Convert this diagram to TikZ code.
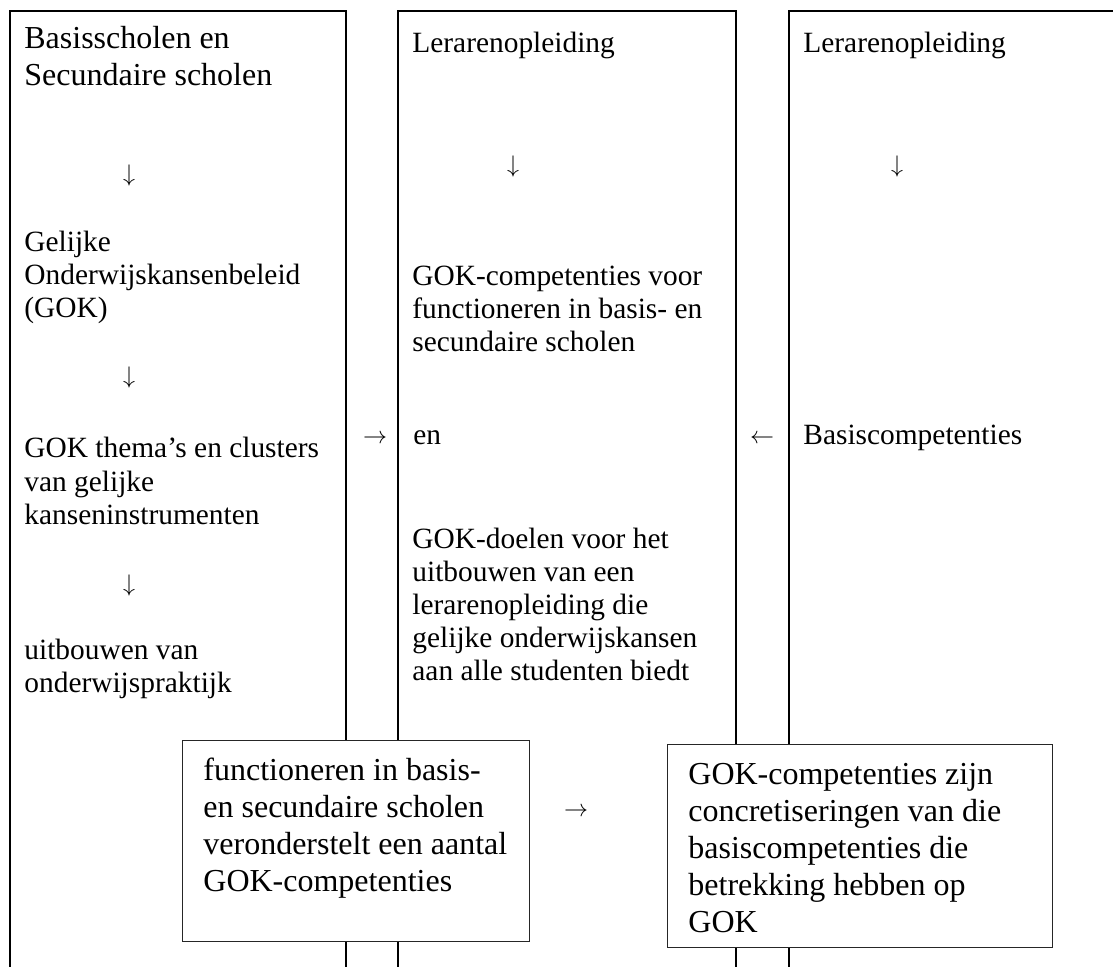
\documentclass[tikz,border=0pt]{standalone}
\usepackage{fontspec}
\setmainfont{Liberation Serif}
\usetikzlibrary{positioning}
\begin{document}
\begin{tikzpicture}[
  x=0.5pt, y=-0.5pt,
  kolom/.style={draw=black, line width=0.65pt},
  kaart/.style={rectangle, draw=black!85, fill=white, line width=0.5pt, inner sep=0pt, anchor=north west},
  % base anchor of a multi-line node sits on its last line
  tekst/.style={anchor=base west, align=left, inner sep=0pt, font=\fontsize{14.7}{16.5}\selectfont},
  groot/.style={tekst, font=\fontsize{16}{18.5}\selectfont},
  pijl/.style={inner sep=0pt, font=\fontsize{13}{15}\selectfont},
]
\useasboundingbox (0,0) rectangle (1113,967);
\clip (0,0) rectangle (1113,967);
% ---------------- the three columns (run off the page at the bottom)
\draw[kolom] (10,11) rectangle (346,1000);
\draw[kolom] (398,11) rectangle (736,1000);
\draw[kolom] (789,11) rectangle (1130,1000);
% ---------------- column 1: schools
\node[groot] (scholen) at (24,86) {Basisscholen en\\Secundaire scholen};
\node[tekst] (gok) at (24,318) {Gelijke\\Onderwijskansenbeleid\\(GOK)};
\node[tekst] (themas) at (24,524) {GOK thema’s en clusters\\van gelijke\\kanseninstrumenten};
\node[tekst] (praktijk) at (24,692) {uitbouwen van\\onderwijspraktijk};
\foreach \y/\n in {176/1,378/2,585/3} {
  \node[pijl] (neer\n) at (129,\y) {$\downarrow$};
}
% ---------------- column 2: teacher training, GOK goals
\node[tekst] (lo) at (412,53) {Lerarenopleiding};
\node[pijl] (neerlo) at (513,167) {$\downarrow$};
\node[tekst] (gokcomp) at (412,352) {GOK-competenties voor\\functioneren in basis- en\\secundaire scholen};
\node[tekst] (en) at (413,445) {en};
\node[tekst] (doelen) at (412,680) {GOK-doelen voor het\\uitbouwen van een\\lerarenopleiding die\\gelijke onderwijskansen\\aan alle studenten biedt};
% ---------------- column 3: basic competences
\node[tekst] (lo2) at (803,53) {Lerarenopleiding};
\node[pijl] (neerbc) at (897,167) {$\downarrow$};
\node[tekst] (basis) at (803,445) {Basiscompetenties};
% ---------------- arrows between the columns
\node[pijl] (naarlo) at (375,439) {$\rightarrow$};
\node[pijl] (vanbc) at (762,439) {$\leftarrow$};
% ---------------- the two cards over the columns
\node[kaart, minimum width=173.5pt, minimum height=100.5pt] (kaart1) at (182,740) {};
\node[groot] (veronderstelt) at (203,891) {functioneren in basis-\\en secundaire scholen\\veronderstelt een aantal\\GOK-competenties};
\node[kaart, minimum width=192.5pt, minimum height=101.5pt] (kaart2) at (667,744) {};
\node[groot] (concreet) at (688,932) {GOK-competenties zijn\\concretiseringen van die\\basiscompetenties die\\betrekking hebben op\\GOK};
\node[pijl] (tussen) at (576,812) {$\rightarrow$};
\end{tikzpicture}
\end{document}
